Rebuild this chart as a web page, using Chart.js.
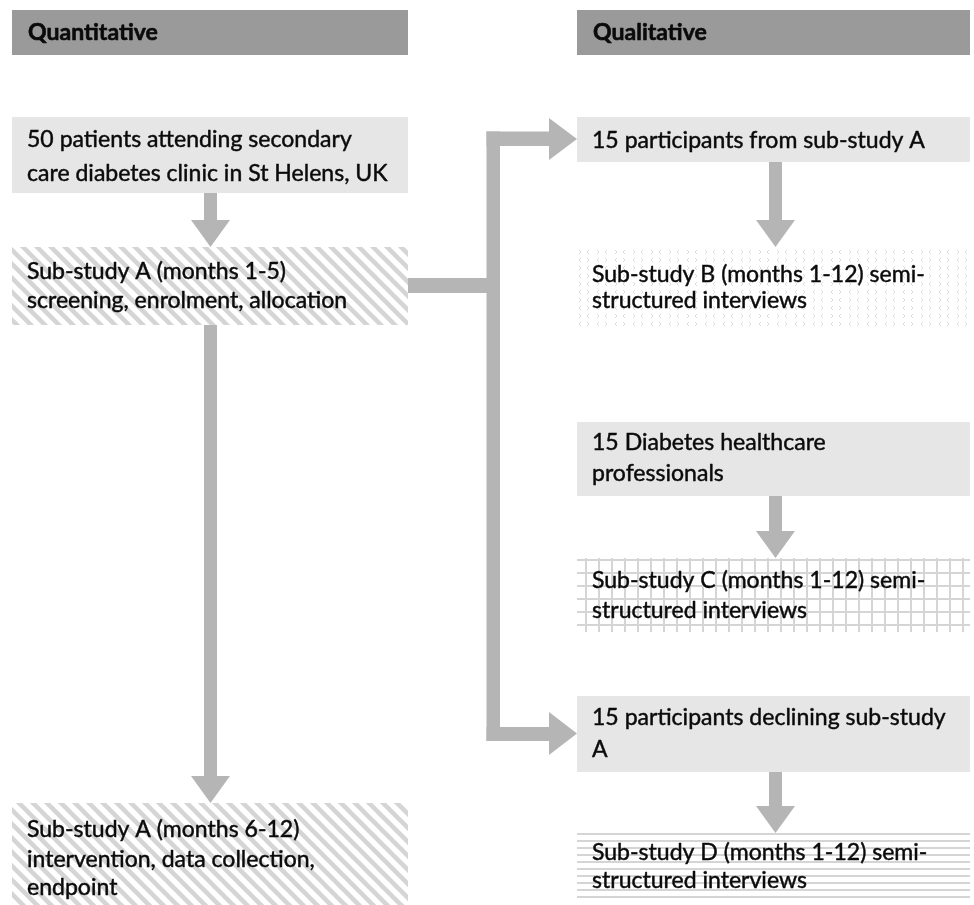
<!DOCTYPE html>
<html lang="en">
<head>
<meta charset="utf-8">
<title>Study flow</title>
<script src="https://cdn.jsdelivr.net/npm/chart.js@4.4.0/dist/chart.umd.min.js"></script>
<style>
  html, body { margin: 0; padding: 0; background: #fff; }
  canvas { display: block; }
</style>
</head>
<body>
<canvas id="flow" width="974" height="905"></canvas>
<script>
// column headings
const headers = ['Quantitative', 'Qualitative'];

// text of each box, one entry per line
const boxLines = [
  ['50 patients attending secondary', 'care diabetes clinic in St Helens, UK'],
  ['Sub-study A (months 1-5)', 'screening, enrolment, allocation'],
  ['Sub-study A (months 6-12)', 'intervention, data collection,', 'endpoint'],
  ['15 participants from sub-study A'],
  ['Sub-study B (months 1-12) semi-', 'structured interviews'],
  ['15 Diabetes healthcare', 'professionals'],
  ['Sub-study C (months 1-12) semi-', 'structured interviews'],
  ['15 participants declining sub-study', 'A'],
  ['Sub-study D (months 1-12) semi-', 'structured interviews']
];
const boxFill = ['solid', 'hatch', 'hatch', 'solid', 'dots', 'solid', 'grid', 'solid', 'lines'];

// layout of the diagram, in axis units (x 0..974, y 0..905 top-down)
const colX = [[12, 408], [577, 970]];
const headerY = [10, 55, 40];
const boxCol = [0, 0, 0, 1, 1, 1, 1, 1, 1];
const boxY = [[117, 193], [247, 325], [803, 905], [117, 162], [247, 327], [422, 496], [558, 632], [696, 772], [833, 902]];
const lineBase = [[147, 181], [279, 308], [837, 867, 895], [148], [282, 308], [450, 481], [588, 618], [725, 757], [860, 888]];

// down arrows: centre x, start y, tip y
const downArrows = [[210.5, 193, 247], [210.5, 325, 803], [775.5, 162, 247], [775.5, 496, 558], [775.5, 772, 833]];
// elbow connector pieces
const connRects = [[408, 500, 278, 293], [486.5, 500, 131.5, 741], [486.5, 549, 131.5, 146], [486.5, 549, 727, 741]];
const connHeads = [[549, 577, 118, 160], [549, 577, 712, 755]];

const HEAD_GREY = '#9a9a9a';
const BOX_GREY = '#e6e6e6';
const ARROW_GREY = '#b5b5b5';
const PAT_GREY = '#d5d5d5';

function makePattern(ctx, kind) {
  const c = document.createElement('canvas');
  const g = c.getContext('2d');
  if (kind === 'hatch') {
    const s = 14;
    c.width = s; c.height = s;
    g.strokeStyle = PAT_GREY; g.lineWidth = 4.5;
    for (let k = -1; k <= 1; k++) {
      g.beginPath();
      g.moveTo(-2, -2 + k * s);
      g.lineTo(s + 2, s + 2 + k * s);
      g.stroke();
    }
  } else if (kind === 'grid') {
    c.width = 13; c.height = 13;
    g.fillStyle = PAT_GREY;
    g.fillRect(0, 0, 2, 13);
    g.fillRect(0, 0, 13, 2);
  } else if (kind === 'lines') {
    c.width = 8; c.height = 7;
    g.fillStyle = PAT_GREY;
    g.fillRect(0, 0, 8, 2);
  } else if (kind === 'dots') {
    c.width = 18; c.height = 16;
    g.strokeStyle = '#dcdcdc'; g.lineWidth = 1;
    const chev = (x, y, dir) => {
      g.beginPath();
      g.moveTo(x + 2 * dir, y - 2);
      g.lineTo(x, y);
      g.lineTo(x + 2 * dir, y + 2);
      g.stroke();
    };
    chev(3, 4, 1); chev(13, 4, -1);
    chev(5, 12, -1); chev(11, 12, 1);
  }
  return ctx.createPattern(c, 'repeat');
}

const flowPlugin = {
  id: 'flow',
  beforeDatasetsDraw(chart) {
    const ctx = chart.ctx;
    const xs = chart.scales.x, ys = chart.scales.y;
    const X = v => xs.getPixelForValue(v);
    const Y = v => ys.getPixelForValue(v);
    const rect = (x0, x1, y0, y1) => ctx.fillRect(X(x0), Y(y0), X(x1) - X(x0), Y(y1) - Y(y0));
    const text = (t, x, y) => {
      ctx.strokeText(t, X(x), Y(y));
      ctx.fillText(t, X(x), Y(y));
    };

    // pick a size so the text runs about as wide as in the source
    ctx.font = '20px Lato';
    const r1 = 361 / ctx.measureText(boxLines[0][1]).width;
    const r2 = 333 / ctx.measureText(boxLines[3][0]).width;
    const size = 20 * (r1 + r2) / 2;

    ctx.save();
    ctx.textBaseline = 'alphabetic';
    ctx.lineJoin = 'round';
    // headers
    headers.forEach((h, i) => {
      ctx.fillStyle = HEAD_GREY;
      rect(colX[i][0], colX[i][1], headerY[0], headerY[1]);
      ctx.fillStyle = '#0a0a0a';
      ctx.strokeStyle = '#0a0a0a';
      ctx.lineWidth = 0.6;
      ctx.font = '700 ' + size + 'px Lato';
      text(h, colX[i][0] + 16, headerY[2]);
    });

    // boxes
    boxLines.forEach((lines, i) => {
      const [x0, x1] = colX[boxCol[i]];
      const [y0, y1] = boxY[i];
      if (boxFill[i] === 'solid') {
        ctx.fillStyle = BOX_GREY;
      } else {
        ctx.fillStyle = '#fff';
        rect(x0, x1, y0, y1);
        ctx.fillStyle = makePattern(ctx, boxFill[i]);
      }
      rect(x0, x1, y0, y1);
      ctx.fillStyle = '#0a0a0a';
      ctx.strokeStyle = '#0a0a0a';
      ctx.lineWidth = 0.45;
      ctx.font = size + 'px Lato';
      lines.forEach((t, j) => text(t, x0 + 15, lineBase[i][j]));
    });

    // arrows
    ctx.fillStyle = ARROW_GREY;
    downArrows.forEach(([cx, ya, yb]) => {
      rect(cx - 6.5, cx + 6.5, ya, yb - 27);
      ctx.beginPath();
      ctx.moveTo(X(cx - 19.5), Y(yb - 27));
      ctx.lineTo(X(cx + 19.5), Y(yb - 27));
      ctx.lineTo(X(cx), Y(yb));
      ctx.closePath();
      ctx.fill();
    });
    connRects.forEach(r => rect(r[0], r[1], r[2], r[3]));
    connHeads.forEach(([xa, xb, ya, yb]) => {
      ctx.beginPath();
      ctx.moveTo(X(xa), Y(ya));
      ctx.lineTo(X(xb), Y((ya + yb) / 2));
      ctx.lineTo(X(xa), Y(yb));
      ctx.closePath();
      ctx.fill();
    });
    ctx.restore();
  }
};

new Chart(document.getElementById('flow'), {
  type: 'scatter',
  data: { datasets: [{ data: [] }] },
  options: {
    responsive: false,
    animation: false,
    layout: { padding: 0 },
    plugins: { legend: { display: false }, tooltip: { enabled: false } },
    scales: {
      x: { type: 'linear', min: 0, max: 974, display: false },
      y: { type: 'linear', min: 0, max: 905, reverse: true, display: false }
    }
  },
  plugins: [flowPlugin]
});
</script>
</body>
</html>
